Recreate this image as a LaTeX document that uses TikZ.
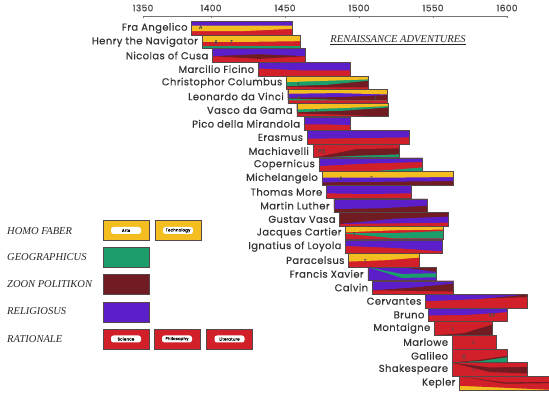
\documentclass[tikz,border=0pt]{standalone}
\usepackage{fontspec}
\setmainfont{Liberation Serif}
\newfontfamily\handfont[FakeBold=0.5, LetterSpace=4]{Poppins}
\usepackage{tikz}
\usetikzlibrary{positioning}

\definecolor{artsyellow}{RGB}{244,190,32}
\definecolor{geogreen}{RGB}{28,158,108}
\definecolor{politmaroon}{RGB}{112,28,34}
\definecolor{religpurple}{RGB}{92,30,200}
\definecolor{ratiored}{RGB}{210,32,42}
\definecolor{penline}{RGB}{85,72,72}

% one bar per life: node name, row, born, died, label, colour layers (bottom first)
\newcommand{\lifebar}[6]{%
  \pgfmathsetmacro{\xa}{211+(#3-1400)*1.48}%
  \pgfmathsetmacro{\xb}{211+(#4-1400)*1.48}%
  \pgfmathsetmacro{\ya}{21.5+(#2-1)*13.65}%
  \pgfmathsetmacro{\xm}{(\xa+\xb)/2}%
  \pgfmathsetmacro{\barw}{\xb-\xa}%
  \foreach \col/\lf/\mf/\rf in {#6}{%
    \fill[\col] (\xa,\ya) -- (\xb,\ya) -- (\xb,{\ya+\rf*13.4}) -- (\xm,{\ya+\mf*13.4}) -- (\xa,{\ya+\lf*13.4}) -- cycle;}%
  \node[lifebox, minimum width=\barw pt, anchor=north west] (#1) at (\xa,\ya) {};%
  \node[who, left=4pt of #1] (#1-name) {#5};%
}

\begin{document}
\begin{tikzpicture}[x=1pt, y=-1pt,
    lifebox/.style={draw=penline, line width=0.6pt, minimum height=13.4pt, inner sep=0pt, outer sep=0pt},
    who/.style={font=\handfont\fontsize{10}{10}\selectfont, text=black!80, inner sep=0pt},
    tag/.style={font=\handfont\fontsize{5}{5}\selectfont, text=black!70, inner sep=0pt},
    yearlabel/.style={font=\handfont\fontsize{9}{9}\selectfont, text=black!75, inner sep=0pt},
    axisline/.style={draw=black!55, line width=0.7pt},
    keybox/.style={draw=penline, line width=0.6pt, minimum width=46pt, minimum height=20pt, inner sep=0pt},
    keytag/.style={fill=white, rounded corners=2.5pt, font=\handfont\fontsize{4}{4}\selectfont, inner sep=1pt, minimum width=30pt, minimum height=7pt},
    keylabel/.style={font=\itshape\fontsize{10.5}{12}\selectfont, text=black!85, anchor=west, inner sep=0pt}]
    \useasboundingbox (0,0) rectangle (549,395);

    % Time axis
    \draw[axisline] (143,16) -- (507,16);
    \foreach \yr/\x in {1350/143, 1400/211, 1450/285, 1500/359, 1550/433, 1600/507}{
        \draw[axisline] (\x,16) -- (\x,18.5);
        \node[yearlabel] (y\yr) at (\x,8) {\yr};
    }

    % Title
    \node[font=\itshape\fontsize{10.5}{12}\selectfont, text=black!85] (title) at (398,40) {\underline{RENAISSANCE ADVENTURES}};

    % Lives
    \lifebar{angelico}{1}{1387}{1455}{Fra Angelico}{ratiored/1/1/1, artsyellow/.72/.72/.55, religpurple/.3/.3/.3}
    \lifebar{henry}{2}{1394}{1460}{Henry the Navigator}{geogreen/1/1/1, ratiored/.82/.8/.8, artsyellow/.5/.5/.45}
    \lifebar{cusa}{3}{1401}{1464}{Nicolas of Cusa}{ratiored/1/1/1, politmaroon/.55/.75/.55, religpurple/.55/.4/.55}
    \lifebar{ficino}{4}{1432}{1494}{Marcilio Ficino}{ratiored/1/1/1, religpurple/.45/.6/.6}
    \lifebar{columbus}{5}{1451}{1506}{Christophor Columbus}{ratiored/1/1/1, politmaroon/.8/.85/.85, geogreen/.75/.65/.35, artsyellow/.45/.35/.25}
    \lifebar{leonardo}{6}{1452}{1519}{Leonardo da Vinci}{ratiored/1/1/1, geogreen/.8/.8/.8, politmaroon/.65/.75/.75, religpurple/.6/.55/.4, artsyellow/.3/.25/.35}
    \lifebar{gama}{7}{1458}{1520}{Vasco da Gama}{ratiored/1/1/1, politmaroon/.75/.85/1, geogreen/.65/.55/.3, artsyellow/.45/.35/.2}
    \lifebar{pico}{8}{1463}{1494}{Pico della Mirandola}{ratiored/1/1/1, religpurple/.55/.55/.6}
    \lifebar{erasmus}{9}{1465}{1534}{Erasmus}{ratiored/1/1/1, religpurple/.6/.55/.5}
    \lifebar{machiavelli}{10}{1469}{1527}{Machiavelli}{geogreen/1/1/1, politmaroon/1/.85/.75, ratiored/1/.35/.3}
    \lifebar{copernicus}{11}{1473}{1543}{Copernicus}{geogreen/1/1/1, ratiored/1/1/.7, religpurple/.6/.4/.3}
    \lifebar{michelangelo}{12}{1475}{1564}{Michelangelo}{politmaroon/1/1/1, religpurple/.8/.75/.7, artsyellow/.45/.45/.4}
    \lifebar{more}{13}{1478}{1535}{Thomas More}{ratiored/1/1/1, religpurple/.6/.65/.6}
    \lifebar{luther}{14}{1483}{1546}{Martin Luther}{politmaroon/1/1/1, religpurple/.75/.7/.5}
    \lifebar{vasa}{15}{1487}{1560}{Gustav Vasa}{ratiored/1/1/1, religpurple/.85/.8/.75, politmaroon/.85/.45/.3}
    \lifebar{cartier}{16}{1491}{1557}{Jacques Cartier}{ratiored/1/1/1, geogreen/.55/.9/.9, ratiored/.5/.5/.35, artsyellow/.45/.3/.25}
    \lifebar{loyola}{17}{1491}{1556}{Ignatius of Loyola}{ratiored/1/1/1, religpurple/.45/.6/.85}
    \lifebar{paracelsus}{18}{1493}{1541}{Paracelsus}{ratiored/1/1/1, artsyellow/.6/.5/.3}
    \lifebar{xavier}{19}{1506}{1552}{Francis Xavier}{religpurple/1/1/1, geogreen/0/.8/.75, religpurple/0/.5/.45, politmaroon/0/0/.35}
    \lifebar{calvin}{20}{1509}{1564}{Calvin}{ratiored/1/1/1, politmaroon/.7/.75/.8, religpurple/.7/.5/.2}
    \lifebar{cervantes}{21}{1545}{1614}{Cervantes}{ratiored/1/1/1, politmaroon/0/.3/.2, religpurple/.5/.35/0}
    \lifebar{bruno}{22}{1547}{1600}{Bruno}{ratiored/1/1/1, religpurple/.55/.5/.3}
    \lifebar{montaigne}{23}{1551}{1590}{Montaigne}{politmaroon/1/1/1, ratiored/1/.85/.2}
    \lifebar{marlowe}{24}{1563}{1593}{Marlowe}{ratiored/1/1/1}
    \lifebar{galileo}{25}{1563}{1600}{Galileo}{geogreen/1/1/1, politmaroon/1/.9/.6, ratiored/1/.8/.5}
    \lifebar{shakespeare}{26}{1563}{1614}{Shakespeare}{ratiored/1/1/1, politmaroon/0/.7/.8, ratiored/0/.35/.3}
    \lifebar{kepler}{27}{1568}{1630}{Kepler}{artsyellow/1/1/1, ratiored/.7/.85/1, politmaroon/0/.55/.5, ratiored/0/.45/.4}

    % Letters pencilled in the bars
    \node[tag, right=7pt of angelico.west, yshift=1pt] (angelico-a) {A};
    \node[tag, right=12pt of henry.west] (henry-a) {A};
    \node[tag, right=28pt of henry.west] (henry-t) {T};
    \node[tag, right=10pt of columbus.west, yshift=-2pt] (columbus-t) {T};
    \node[tag, right=9pt of leonardo.west, yshift=-1pt] (leonardo-a) {A};
    \node[tag, left=10pt of leonardo.east, yshift=-2pt] (leonardo-t) {T};
    \node[tag, right=18pt of gama.west, yshift=-1pt] (gama-t) {T};
    \node[tag, right=5pt of machiavelli.west] (machiavelli-ps) {P\,S};
    \node[tag, right=17pt of michelangelo.west] (michelangelo-a) {A};
    \node[tag, right=48pt of michelangelo.west] (michelangelo-t) {T};
    \node[tag, right=7pt of cartier.west, yshift=-1pt] (cartier-t) {T};
    \node[tag, right=15pt of paracelsus.west, yshift=-1pt] (paracelsus-t) {T};
    \node[tag, right=60pt of bruno.west] (bruno-sp) {S\,P};
    \node[tag, right=17pt of montaigne.west] (montaigne-l) {L};
    \node[tag, right=20pt of marlowe.west] (marlowe-l) {L};
    \node[tag, right=10pt of galileo.west, yshift=-1pt] (galileo-s) {S};
    \node[tag, right=20pt of shakespeare.west] (shakespeare-l) {L};

    % Key
    \node[keylabel] (faber) at (7,231) {HOMO FABER};
    \node[keylabel] (geo) at (7,257) {GEOGRAPHICUS};
    \node[keylabel] (polit) at (7,284.5) {ZOON POLITIKON};
    \node[keylabel] (relig) at (7,311.5) {RELIGIOSUS};
    \node[keylabel] (ratio) at (7,339) {RATIONALE};

    \node[keybox, fill=artsyellow] (arts) at (126,230.5) {};
    \node[keytag] (arts-t) at (arts) {Arts};
    \node[keybox, fill=artsyellow] (tech) at (178,230.5) {};
    \node[keytag] (tech-t) at (tech) {Technology};
    \node[keybox, fill=geogreen] (geo-box) at (126,257) {};
    \node[keybox, fill=politmaroon] (polit-box) at (126,284.5) {};
    \node[keybox, fill=religpurple] (relig-box) at (126,312) {};
    \node[keybox, fill=ratiored] (science) at (126,339) {};
    \node[keytag] (science-t) at (science) {Science};
    \node[keybox, fill=ratiored] (philo) at (177,339) {};
    \node[keytag] (philo-t) at (philo) {Philosophy};
    \node[keybox, fill=ratiored] (lit) at (229.5,339) {};
    \node[keytag] (lit-t) at (lit) {Literature};
\end{tikzpicture}
\end{document}
